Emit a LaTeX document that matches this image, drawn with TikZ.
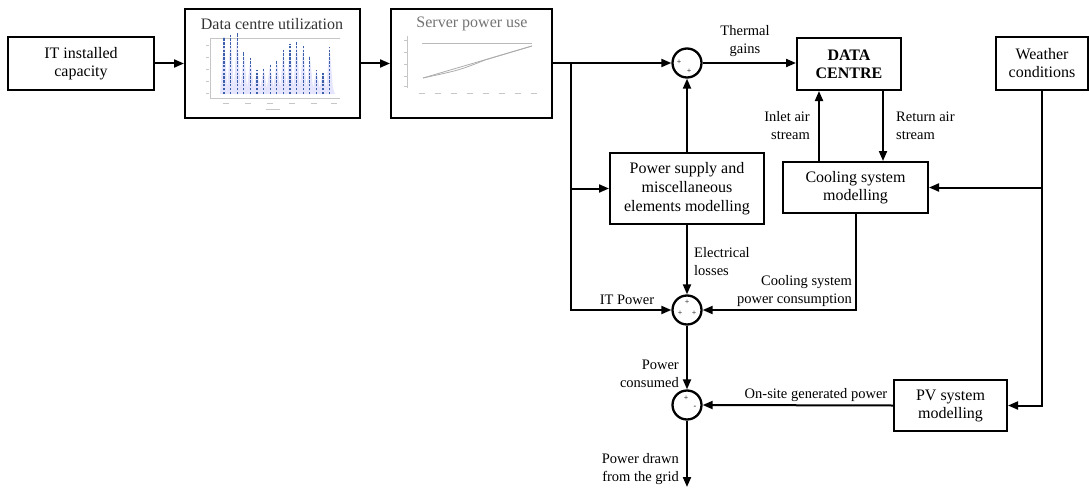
\documentclass[tikz,border=0pt]{standalone}
\usepackage{fontspec}
\setmainfont{Liberation Serif}
\usetikzlibrary{arrows.meta}
\definecolor{spike}{RGB}{60,95,170}
\begin{document}
\begin{tikzpicture}[x=1pt,y=-1pt,
  blk/.style={draw, line width=2pt, align=center, font=\fontsize{16}{18}\selectfont, inner sep=0pt},
  sumc/.style={draw, circle, line width=2.3pt, minimum size=29pt, inner sep=0pt},
  lbl/.style={font=\fontsize{14.5}{18}\selectfont, inner sep=0pt},
  sgn/.style={font=\fontsize{8}{8}\selectfont, inner sep=0pt},
  conn/.style={line width=2pt, -{Triangle[length=10pt,width=8pt]}},
  tick/.style={gray!45, line width=0.5pt}]
\useasboundingbox (0,0) rectangle (1089,487);

% ---------- blocks ----------
\node[blk, minimum width=146pt, minimum height=53pt] (it) at (81,63.5) {IT installed\\capacity};
\node[blk, minimum width=175pt, minimum height=109pt] (util) at (272.5,63.5) {};
\node[blk, minimum width=161pt, minimum height=109pt] (srv) at (471.5,63.5) {};
\node[blk, minimum width=104pt, minimum height=52pt, font=\fontsize{16}{18}\selectfont\bfseries] (dc) at (849,64) {DATA\\CENTRE};
\node[blk, minimum width=92pt, minimum height=53pt] (wx) at (1042,63.5) {Weather\\conditions};
\node[blk, minimum width=145pt, minimum height=51pt] (cool) at (855.5,187.5) {Cooling system\\modelling};
\node[blk, minimum width=154pt, minimum height=71pt, font=\fontsize{16}{19}\selectfont] (ps) at (687,188.5) {Power supply and\\miscellaneous\\elements modelling};
\node[blk, minimum width=113pt, minimum height=51pt] (pv) at (950.5,405.5) {PV system\\modelling};
\node[sumc] (s1) at (687,63) {};
\node[sumc] (s2) at (687,310) {};
\node[sumc] (s3) at (687,405) {};
\coordinate (br) at (571,63);
\coordinate (out) at (687,487);

% ---------- embedded plot: data centre utilization ----------
\node[font=\fontsize{16}{18}\selectfont, text=black!80, inner sep=0pt] (utilt) at (272,24) {Data centre utilization};
\draw[tick] (210,38) -- (340,38);
\draw[tick] (210,38) -- (210,98) -- (340,98);
\foreach \yy in {45,57,69,81,93} {\draw[tick] (206,\yy) -- (209,\yy);}
\foreach \xx in {226,248,270,292,314,334} {\draw[tick] (\xx-3,103) -- (\xx+3,103);}
\draw[tick] (266,109) -- (280,109);
\fill[blue!10] (220,94)
  \foreach \t [count=\i from 0] in {37,35,33,52,58,70,68,64,60,50,44,41,46,56,70,72,47}
  { -- ({224+6.6*\i},\t) -- ({227.3+6.6*\i},88) } -- (335,94) -- cycle;
\foreach \t [count=\i from 0] in {37,35,33,52,58,70,68,64,60,50,44,41,46,56,70,72,47}
  { \draw[spike, line width=1.3pt, dash pattern=on 2.5pt off 1.3pt] ({224+6.6*\i},94) -- ({224+6.6*\i},\t); }

% ---------- embedded plot: server power use ----------
\node[font=\fontsize{16}{18}\selectfont, text=black!55, inner sep=0pt] (srvt) at (472,24) {Server power use};
\draw[tick] (407,36) -- (407,88);
\foreach \yy in {40,52,64,76,86} {\draw[tick] (404,\yy) -- (407,\yy);}
\foreach \xx in {422,438,454,470,486,502,518,534} {\draw[tick] (\xx-3,93) -- (\xx+3,93);}
\draw[gray!55, line width=0.8pt] (422,43) -- (532,43);
\draw[gray!65, line width=0.8pt] (423,78) -- (532,46);
\draw[gray!65, line width=0.8pt] (423,78) .. controls (460,70) .. (485,60) -- (532,46);

% ---------- connectors ----------
\draw[conn] (it) -- (util);
\draw[conn] (util) -- (srv);
\draw[conn] (srv.east |- s1) -- (s1);
\draw[conn] (br) |- (s2.west);
\draw[conn] (br |- ps.west) -- (ps.west);
\draw[conn] (ps.north) -- (s1.south);
\draw[conn] (s1.east) -- (dc.west |- s1.east);
\draw[conn] ([xshift=-36.5pt]cool.north) -- ([xshift=-36.5pt]cool.north |- dc.south);
\draw[conn] ([xshift=27.5pt]cool.north |- dc.south) -- ([xshift=27.5pt]cool.north);
\draw[conn] (wx.south) |- (pv.east);
\draw[conn] (wx.south |- cool.east) -- (cool.east);
\draw[conn] (cool.south) |- (s2.east);
\draw[conn] (ps.south) -- (s2.north);
\draw[conn] (s2) -- (s3);
\draw[conn] (pv.west) -- (s3.east);
\draw[conn] (s3) -- (out);

% ---------- signs ----------
\node[sgn] at (679,62) {+};
\node[sgn] at (689,71) {+};
\node[sgn] at (687,302) {+};
\node[sgn] at (680,313) {+};
\node[sgn] at (694,313) {+};
\node[sgn] at (686,398) {+};
\node[sgn] at (695,407) {-};

% ---------- labels ----------
\node[lbl, align=center] at (745,41.5) {Thermal\\gains};
\node[lbl, align=right, anchor=east] at (810,126) {Inlet air\\stream};
\node[lbl, align=left, anchor=west] at (896,126) {Return air\\stream};
\node[lbl, align=left, anchor=west] at (694,262) {Electrical\\losses};
\node[lbl] at (627,300) {IT Power};
\node[lbl, align=right, anchor=east] at (852,291) {Cooling system\\power consumption};
\node[lbl, align=right, anchor=east] at (679,374) {Power\\consumed};
\node[lbl] at (816,395) {On-site generated power};
\node[lbl, align=right, anchor=east] at (679,469.5) {Power drawn\\from the grid};
\end{tikzpicture}
\end{document}
